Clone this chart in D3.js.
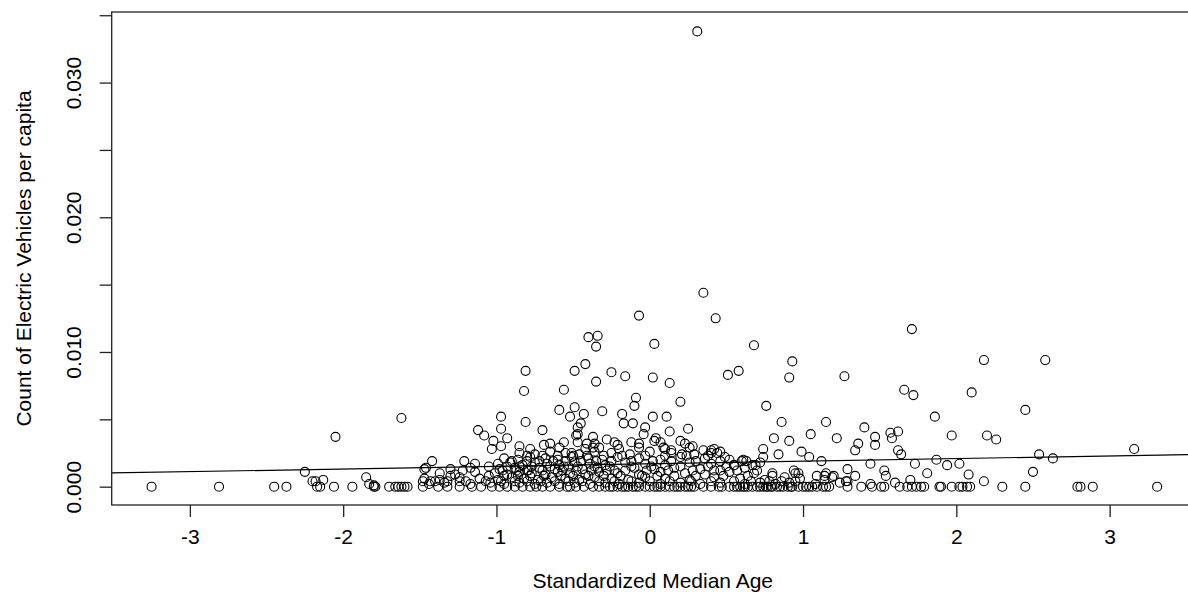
<!DOCTYPE html>
<meta charset="utf-8">
<script src="https://d3js.org/d3.v7.min.js"></script>
<style>
    body { margin: 0; background: #fff; }
    text { font-family: "Liberation Sans", Arial, sans-serif; fill: #000; }
</style>
<div id="chart"></div>
<script>
    // ---- data ----
    const xTicks = [-3, -2, -1, 0, 1, 2, 3];
    const yTicks = [0, 0.005, 0.010, 0.015, 0.020, 0.025, 0.030, 0.035];
    const yTickLabels = ["0.000", "", "0.010", "", "0.020", "", "0.030", ""];

    // counties with no electric vehicles (y = 0)
    const zeroRowAgeZ = [-3.25, -2.81, -2.45, -2.37, -2.17, -2.15, -2.06, -1.94, -1.79, -1.80, -1.70,
        -1.66, -1.64, -1.62, -1.60, -1.58, -1.48, -1.38, -1.32, -1.24, -1.16, -1.10, -1.03, -0.98,
        -0.93, -0.88, -0.83, -0.78, -0.74, -0.70, -0.65, -0.59, -0.54, -0.48, -0.37, -0.29, -0.24,
        -0.21, -0.18, -0.14, -0.11, -0.07, -0.03, 0.00, 0.03, 0.07, 0.13, 0.16, 0.20, 0.23, 0.25,
        0.27, 0.29, 0.40, 0.47, 0.52, 0.55, 0.59, 0.61, 0.64, 0.67, 0.70, 0.74, 0.77, 0.80, 0.83,
        0.87, 0.90, 0.93, 0.97, 1.00, 1.04, 1.09, 1.13, 1.15, 1.17, 1.29, 1.38, 1.45, 1.51, 1.53,
        1.63, 1.68, 1.71, 1.74, 1.77, 1.79, 1.89, 1.90, 1.97, 2.02, 2.04, 2.07, 2.09, 2.30, 2.45,
        2.79, 2.81, 2.89, 3.31,
        -0.52, -0.43, -0.33, -0.26, -0.16, -0.09, 0.05, 0.10, 0.18, 0.35, 0.45, 0.57, 0.62, 0.72,
        0.76, 0.79, 0.85, 0.92, 1.02, 1.06];

    // scattered points above the dense band
    const spreadPoints = [
        [-2.25, 0.0011], [-2.20, 0.0004], [-2.18, 0.0004], [-2.13, 0.0005], [-2.05, 0.0037],
        [-1.85, 0.0007], [-1.83, 0.0002], [-1.80, 0.0001], [-1.62, 0.0051],
        [-1.42, 0.0019], [-1.47, 0.0013], [-1.46, 0.0014], [-1.21, 0.0019], [-0.99, 0.0017],
        [-1.48, 0.0004], [-1.43, 0.0004], [-1.32, 0.0004], [-1.24, 0.0004],
        [-0.81, 0.0086], [-0.49, 0.0086], [-0.82, 0.0071], [-0.56, 0.0072], [-0.59, 0.0057],
        [-0.49, 0.0059], [-0.52, 0.0052], [-0.97, 0.0052], [-0.81, 0.0048], [-1.12, 0.0042],
        [-0.97, 0.0043], [-1.08, 0.0038], [-0.70, 0.0042], [-1.02, 0.0034], [-0.93, 0.0036],
        [-0.97, 0.0030], [-1.03, 0.0028], [-0.85, 0.0030], [-0.69, 0.0031], [-0.56, 0.0033],
        [-0.48, 0.0038], [-0.51, 0.0025],
        [0.31, 0.0338], [0.35, 0.0144], [-0.07, 0.0127], [0.43, 0.0125], [-0.40, 0.0111],
        [-0.34, 0.0112], [-0.35, 0.0104], [0.03, 0.0106], [0.68, 0.0105], [-0.42, 0.0091],
        [-0.25, 0.0085], [-0.35, 0.0078], [-0.16, 0.0082], [0.02, 0.0081], [0.13, 0.0077],
        [0.51, 0.0083], [0.58, 0.0086], [-0.09, 0.0066], [-0.10, 0.0060], [0.20, 0.0063],
        [-0.31, 0.0056], [-0.43, 0.0054], [-0.18, 0.0054], [0.02, 0.0052], [0.11, 0.0052],
        [-0.17, 0.0047], [-0.11, 0.0047], [-0.45, 0.0047], [-0.03, 0.0044], [0.25, 0.0043],
        [0.13, 0.0041], [-0.47, 0.0044], [-0.04, 0.0039], [0.20, 0.0034], [0.28, 0.0030],
        [0.35, 0.0027], [-0.37, 0.0037], [-0.28, 0.0035], [-0.12, 0.0033], [0.04, 0.0036],
        [-0.47, 0.0039], [-0.21, 0.0031], [0.03, 0.0034], [0.40, 0.0025], [0.09, 0.0029],
        [0.14, 0.0027], [0.21, 0.0024], [-0.41, 0.0032], [-0.37, 0.0029],
        [1.71, 0.0117], [0.93, 0.0093], [0.91, 0.0081], [1.27, 0.0082], [0.76, 0.0060],
        [1.66, 0.0072], [1.72, 0.0068], [1.86, 0.0052], [0.86, 0.0048], [1.15, 0.0048],
        [1.40, 0.0044], [0.81, 0.0036], [0.91, 0.0034], [1.05, 0.0039], [1.22, 0.0036],
        [1.47, 0.0037], [1.47, 0.0031], [1.57, 0.0040], [1.62, 0.0041], [1.58, 0.0036],
        [1.36, 0.0032], [1.34, 0.0027], [0.74, 0.0028], [0.74, 0.0022], [0.84, 0.0024],
        [0.99, 0.0026], [1.04, 0.0022], [1.62, 0.0027], [1.64, 0.0024], [1.12, 0.0019],
        [1.44, 0.0017], [1.73, 0.0017], [1.87, 0.0020], [0.61, 0.0020], [1.53, 0.0012],
        [1.54, 0.0008], [1.81, 0.0010], [1.29, 0.0013], [1.34, 0.0008], [1.70, 0.0005],
        [0.94, 0.0012], [1.09, 0.0008], [1.15, 0.0010], [1.20, 0.0008], [1.28, 0.0004],
        [0.97, 0.0010], [0.80, 0.0010], [0.69, 0.0016],
        [0.40, 0.0027], [0.44, 0.0025], [0.49, 0.0022], [0.55, 0.0016], [0.60, 0.0019],
        [0.67, 0.0016], [0.70, 0.0012], [0.95, 0.0010], [1.14, 0.0008], [1.19, 0.0007],
        [1.29, 0.0004],
        [2.18, 0.0094], [2.58, 0.0094], [2.10, 0.0070], [2.45, 0.0057], [1.97, 0.0038],
        [2.20, 0.0038], [2.26, 0.0035], [3.16, 0.0028], [2.54, 0.0024], [2.63, 0.0021],
        [1.94, 0.0016], [2.02, 0.0017], [2.08, 0.0009], [2.50, 0.0011], [2.18, 0.0004]
    ];

    // dense band of counties just above zero
    const densePoints = [
        [-1.44, 0.0002], [-1.34, 0.0003], [-1.17, 0.0002], [-1.04, 0.0003], [-0.95, 0.0002],
        [-0.85, 0.0003], [-0.75, 0.0002], [-0.67, 0.0003], [-0.59, 0.0002], [-0.49, 0.0003],
        [-0.39, 0.0002], [-0.29, 0.0003], [-0.20, 0.0002], [-0.07, 0.0003], [0.07, 0.0002],
        [0.20, 0.0003], [0.33, 0.0002], [0.46, 0.0003], [0.62, 0.0002], [0.72, 0.0003],
        [0.82, 0.0002], [0.91, 0.0003], [1.08, 0.0002], [1.24, 0.0003], [1.44, 0.0002],
        [1.60, 0.0003],
        [-1.47, 0.0006], [-1.37, 0.0005], [-1.24, 0.0007], [-1.11, 0.0006], [-0.99, 0.0005],
        [-0.90, 0.0007], [-0.82, 0.0006], [-0.73, 0.0005], [-0.64, 0.0007], [-0.55, 0.0006],
        [-0.46, 0.0005], [-0.36, 0.0007], [-0.25, 0.0006], [-0.14, 0.0005], [-0.03, 0.0007],
        [0.10, 0.0006], [0.26, 0.0005], [0.42, 0.0007], [0.59, 0.0006], [0.75, 0.0005],
        [0.88, 0.0007], [0.98, 0.0006], [1.14, 0.0005],
        [-1.37, 0.0010], [-1.27, 0.0009], [-1.14, 0.0011], [-1.01, 0.0010], [-0.93, 0.0009],
        [-0.85, 0.0011], [-0.77, 0.0010], [-0.68, 0.0009], [-0.60, 0.0011], [-0.52, 0.0010],
        [-0.42, 0.0009], [-0.33, 0.0011], [-0.21, 0.0010], [-0.07, 0.0009], [0.07, 0.0011],
        [0.23, 0.0010], [0.36, 0.0009], [0.52, 0.0011], [0.68, 0.0010],
        [-1.30, 0.0013], [-1.17, 0.0014], [-0.98, 0.0013], [-0.88, 0.0014], [-0.80, 0.0012],
        [-0.72, 0.0014], [-0.62, 0.0013], [-0.53, 0.0015], [-0.44, 0.0013], [-0.34, 0.0014],
        [-0.23, 0.0012], [-0.10, 0.0014], [0.03, 0.0013], [0.16, 0.0014], [0.33, 0.0013],
        [0.46, 0.0012], [0.62, 0.0014],
        [-1.14, 0.0017], [-0.91, 0.0018], [-0.83, 0.0016], [-0.75, 0.0018], [-0.67, 0.0017],
        [-0.59, 0.0016], [-0.49, 0.0018], [-0.39, 0.0017], [-0.29, 0.0016], [-0.16, 0.0018],
        [-0.03, 0.0017], [0.10, 0.0016], [0.26, 0.0018], [0.40, 0.0017], [0.55, 0.0016],
        [0.72, 0.0018],
        [-0.95, 0.0021], [-0.86, 0.0020], [-0.78, 0.0022], [-0.68, 0.0021], [-0.60, 0.0020],
        [-0.51, 0.0022], [-0.40, 0.0021], [-0.31, 0.0020], [-0.21, 0.0022], [-0.07, 0.0021],
        [0.07, 0.0020], [0.20, 0.0022], [0.36, 0.0021], [0.52, 0.0020],
        [-0.85, 0.0025], [-0.75, 0.0024], [-0.65, 0.0026], [-0.55, 0.0025], [-0.46, 0.0024],
        [-0.36, 0.0026], [-0.25, 0.0025], [-0.13, 0.0024], [0.00, 0.0026], [0.14, 0.0025],
        [0.29, 0.0024], [0.46, 0.0026],
        [-0.78, 0.0028], [-0.59, 0.0029], [-0.42, 0.0028], [-0.33, 0.0029], [-0.20, 0.0028],
        [-0.07, 0.0029], [0.10, 0.0028], [0.26, 0.0029], [0.42, 0.0028],
        [-0.65, 0.0032], [-0.47, 0.0033], [-0.36, 0.0032], [-0.23, 0.0033], [-0.07, 0.0032],
        [0.07, 0.0033], [0.23, 0.0032]
    ];

    // second layer of the dense band, sitting between the rows above
    const denseInfill = [
        [-1.40, 0.0004], [-1.20, 0.0004], [-1.07, 0.0004], [-0.97, 0.0004], [-0.88, 0.0004],
        [-0.80, 0.0004], [-0.71, 0.0004], [-0.62, 0.0004], [-0.53, 0.0004], [-0.44, 0.0004],
        [-0.33, 0.0004], [-0.23, 0.0004], [-0.12, 0.0004], [0.00, 0.0004], [0.13, 0.0004],
        [0.27, 0.0004], [0.40, 0.0004], [0.55, 0.0004], [0.66, 0.0004], [0.78, 0.0004],
        [0.86, 0.0004], [0.95, 0.0004],
        [-1.30, 0.0008], [-1.05, 0.0008], [-0.95, 0.0008], [-0.86, 0.0008], [-0.78, 0.0008],
        [-0.69, 0.0008], [-0.58, 0.0008], [-0.50, 0.0008], [-0.40, 0.0008], [-0.30, 0.0008],
        [-0.19, 0.0008], [-0.05, 0.0008], [0.05, 0.0008], [0.16, 0.0008], [0.30, 0.0008],
        [0.48, 0.0008], [0.64, 0.0008], [0.80, 0.0008],
        [-1.22, 0.0012], [-0.96, 0.0012], [-0.87, 0.0012], [-0.79, 0.0012], [-0.70, 0.0012],
        [-0.57, 0.0012], [-0.48, 0.0012], [-0.38, 0.0012], [-0.28, 0.0012], [-0.16, 0.0012],
        [-0.02, 0.0012], [0.12, 0.0012], [0.28, 0.0012], [0.42, 0.0012], [0.57, 0.0012],
        [-1.05, 0.0015], [-0.93, 0.0015], [-0.85, 0.0015], [-0.77, 0.0015], [-0.65, 0.0015],
        [-0.56, 0.0015], [-0.47, 0.0015], [-0.36, 0.0015], [-0.26, 0.0015], [-0.12, 0.0015],
        [0.01, 0.0015], [0.20, 0.0015], [0.38, 0.0015], [0.50, 0.0015],
        [-0.90, 0.0019], [-0.80, 0.0019], [-0.72, 0.0019], [-0.63, 0.0019], [-0.55, 0.0019],
        [-0.45, 0.0019], [-0.35, 0.0019], [-0.25, 0.0019], [-0.12, 0.0019], [0.02, 0.0019],
        [0.14, 0.0019], [0.30, 0.0019], [0.46, 0.0019], [0.63, 0.0019],
        [-0.80, 0.0023], [-0.70, 0.0023], [-0.60, 0.0023], [-0.50, 0.0023], [-0.41, 0.0023],
        [-0.30, 0.0023], [-0.18, 0.0023], [-0.03, 0.0023], [0.10, 0.0023], [0.24, 0.0023],
        [0.38, 0.0023]
    ];

    // fitted line (abline of lm)
    const fitIntercept = 0.00170;
    const fitSlope = 0.000194;

    // ---- layout ----
    const width = 1188, height = 610;
    const plotLeft = 111.7, plotRight = 1197, plotTop = 12, plotBottom = 505;
    const fontSize = 21;

    const x = d3.scaleLinear().domain([-3.51, 3.57]).range([plotLeft, plotRight]);
    const y = d3.scaleLinear().domain([-0.00136, 0.03524]).range([plotBottom, plotTop]);

    const svg = d3.select("#chart").append("svg")
        .attr("width", width)
        .attr("height", height);

    svg.append("defs").append("clipPath")
        .attr("id", "plotClip")
        .append("rect")
        .attr("x", plotLeft).attr("y", plotTop)
        .attr("width", plotRight - plotLeft).attr("height", plotBottom - plotTop);

    // all points together
    const allPoints = zeroRowAgeZ.map(v => [v, 0]).concat(spreadPoints, densePoints, denseInfill);

    svg.append("g")
        .selectAll("circle")
        .data(allPoints)
        .enter()
        .append("circle")
        .attr("cx", d => x(d[0]))
        .attr("cy", d => y(d[1]))
        .attr("r", 4.5)
        .attr("fill", "none")
        .attr("stroke", "#000")
        .attr("stroke-width", 1.1);

    // regression line
    const xd = x.domain();
    svg.append("path")
        .attr("clip-path", "url(#plotClip)")
        .attr("d", d3.line()(xd.map(v => [x(v), y(fitIntercept + fitSlope * v)])))
        .attr("stroke", "#000")
        .attr("stroke-width", 1.2)
        .attr("fill", "none");

    // box
    svg.append("rect")
        .attr("x", plotLeft).attr("y", plotTop)
        .attr("width", plotRight - plotLeft).attr("height", plotBottom - plotTop)
        .attr("fill", "none")
        .attr("stroke", "#222")
        .attr("stroke-width", 1.3);

    // x axis
    const xAxis = svg.append("g")
        .attr("transform", `translate(0,${plotBottom})`)
        .call(d3.axisBottom(x).tickValues(xTicks).tickSize(12).tickPadding(12)
            .tickFormat(d => d < 0 ? "-" + Math.abs(d) : String(d)));
    xAxis.select(".domain").remove();
    xAxis.selectAll("line").attr("stroke", "#222").attr("stroke-width", 1.3);
    xAxis.selectAll("text")
        .style("font-size", fontSize + "px")
        .style("font-family", '"Liberation Sans", Arial, sans-serif')
        .attr("fill", "#000");

    // y axis
    const yAxis = svg.append("g")
        .attr("transform", `translate(${plotLeft},0)`)
        .call(d3.axisLeft(y).tickValues(yTicks).tickSize(12)
            .tickFormat((d, i) => yTickLabels[i]));
    yAxis.select(".domain").remove();
    yAxis.selectAll("line").attr("stroke", "#222").attr("stroke-width", 1.3);
    yAxis.selectAll("text")
        .attr("x", 0).attr("dy", 0)
        .attr("transform", "translate(-31,0) rotate(-90)")
        .attr("text-anchor", "middle")
        .style("font-size", fontSize + "px")
        .style("font-family", '"Liberation Sans", Arial, sans-serif')
        .attr("fill", "#000");

    // axis titles
    svg.append("text")
        .attr("x", x(0.02))
        .attr("y", 588)
        .attr("text-anchor", "middle")
        .style("font-size", fontSize + "px")
        .text("Standardized Median Age");

    svg.append("text")
        .attr("transform", `translate(31,${(plotTop + plotBottom) / 2}) rotate(-90)`)
        .attr("text-anchor", "middle")
        .style("font-size", fontSize + "px")
        .text("Count of Electric Vehicles per capita");
</script>
